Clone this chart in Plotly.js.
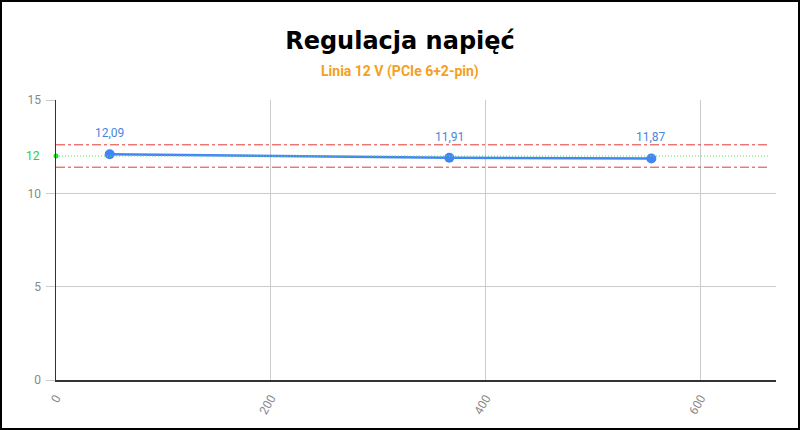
<!DOCTYPE html>
<html>
<head>
<meta charset="utf-8">
<script src="https://cdn.plot.ly/plotly-3.0.1.min.js"></script>
<style>
    html, body { margin: 0; padding: 0; background: #fff; }
    #ramka { width: 800px; height: 430px; border: 2px solid #000; box-sizing: border-box; }
    #wykres { width: 796px; height: 426px; }
</style>
</head>
<body>
<div id="ramka"><div id="wykres"></div></div>
<script>
// obciążenie [W] i napięcie [V]
const obciazenie = [50, 366, 554];
const napiecie = [12.09, 11.91, 11.87];

// wartość nominalna i granice tolerancji (±5%)
const nominalne = 12;
const granice = [12.6, 11.4];
const zakresLinii = [0, 664];

const ticksX = [0, 200, 400, 600];
const ticksY = [0, 5, 10, 15];

function formatuj(v) {
    return v.toFixed(2).replace('.', ',');
}

const seria = {
    x: obciazenie,
    y: napiecie,
    type: 'scatter',
    mode: 'lines+markers',
    line: { color: '#4285f4', width: 2.5 },
    marker: { color: '#4285f4', size: 10 },
    hoverinfo: 'skip'
};

const punktNominalny = {
    x: [zakresLinii[0]],
    y: [nominalne],
    type: 'scatter',
    mode: 'markers',
    marker: { color: '#22dd22', size: 5 },
    cliponaxis: false,
    hoverinfo: 'skip'
};

const linie = [];
granice.forEach(g => {
    linie.push({
        type: 'line', xref: 'x', yref: 'y',
        x0: zakresLinii[0], x1: zakresLinii[1], y0: g, y1: g,
        line: { color: '#e53935', width: 1, dash: 'dashdot' }
    });
});
linie.push({
    type: 'line', xref: 'x', yref: 'y',
    x0: zakresLinii[0], x1: zakresLinii[1], y0: nominalne, y1: nominalne,
    line: { color: '#55e055', width: 1, dash: '1px,2px' }
});

const etykiety = obciazenie.map((x, i) => ({
    x: x, y: napiecie[i], xref: 'x', yref: 'y',
    text: formatuj(napiecie[i]),
    showarrow: false, yshift: 21,
    font: { family: 'Roboto', size: 12, color: '#4a86dc' }
}));

etykiety.push({
    x: 0, y: nominalne, xref: 'paper', yref: 'y',
    text: String(nominalne), showarrow: false,
    xanchor: 'right', xshift: -14,
    font: { family: 'Roboto', size: 12, color: '#33cc33' }
});

etykiety.push({
    x: 0.5, y: 1, xref: 'paper', yref: 'paper',
    yanchor: 'bottom', yshift: 18, xshift: -16, showarrow: false,
    text: '<b>Linia 12 V (PCIe 6+2-pin)</b>',
    font: { family: 'Roboto', size: 14, color: '#f4a020' }
});

const layout = {
    width: 796,
    height: 426,
    margin: { l: 54, r: 22, t: 98, b: 48 },
    paper_bgcolor: '#fff',
    plot_bgcolor: '#fff',
    showlegend: false,
    title: {
        text: '<b>Regulacja napięć</b>',
        x: 0.5, xanchor: 'center',
        y: 0.91, yanchor: 'middle',
        font: { family: 'DejaVu Sans', size: 24, color: '#000' }
    },
    xaxis: {
        range: [0, 670],
        tickvals: ticksX,
        tickangle: -60,
        ticklabelstandoff: 5,
        showgrid: true,
        gridcolor: '#cccccc',
        zeroline: false,
        showline: true,
        linecolor: '#333',
        linewidth: 1.5,
        ticks: '',
        tickfont: { family: 'Roboto', size: 12, color: '#888' },
        fixedrange: true
    },
    yaxis: {
        range: [0, 15],
        tickvals: ticksY,
        ticklabelstandoff: 2,
        showgrid: true,
        gridcolor: '#cccccc',
        zeroline: false,
        showline: true,
        linecolor: '#333',
        linewidth: 1.5,
        ticks: 'outside',
        ticklen: 9,
        tickcolor: '#cccccc',
        tickfont: { family: 'Roboto', size: 12, color: '#888' },
        fixedrange: true
    },
    shapes: linie,
    annotations: etykiety
};

Plotly.newPlot('wykres', [seria, punktNominalny], layout, { displayModeBar: false, staticPlot: true });
</script>
</body>
</html>
